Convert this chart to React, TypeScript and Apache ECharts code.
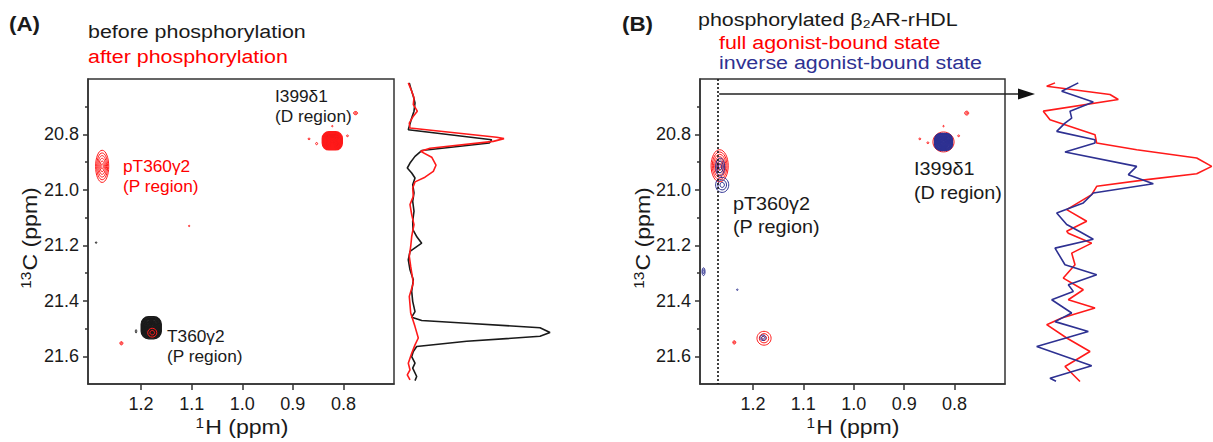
import React, { useEffect, useRef } from "react";
import * as echarts from "echarts";

const FONT = "'Liberation Sans', Arial, Helvetica, sans-serif";
const BLACK = "#1a1a1a";
const RED = "#ff1a1a";
const NAVY = "#2e3192";

// axis ranges (ppm)
const hRange = [0.7, 1.305];
const cRange = [20.6, 21.7];
const hTickValues = [0.8, 0.9, 1.0, 1.1, 1.2];
const cTickValues = [20.8, 21.0, 21.2, 21.4, 21.6];
const cMinorTickValues = [20.7, 20.9, 21.1, 21.3, 21.5];

// 2D peaks: [1H ppm, 13C ppm, half-width 1H, half-width 13C, contour levels]
const peaksBefore = [
  [0.822, 20.823, 0.018, 0.03, 14],
  [1.18, 21.497, 0.02, 0.04, 20],
  [1.289, 21.19, 0.001, 0.003, 1],
  [1.21, 21.51, 0.0008, 0.006, 1],
];
const peaksAfter = [
  [0.822, 20.823, 0.02, 0.033, 18],
  [1.277, 20.915, 0.013, 0.058, 6],
  [0.776, 20.723, 0.004, 0.006, 2],
  [0.868, 20.816, 0.002, 0.003, 1],
  [0.853, 20.833, 0.002, 0.004, 1],
  [0.792, 20.805, 0.002, 0.003, 1],
  [0.822, 20.77, 0.001, 0.002, 1],
  [1.105, 21.13, 0.001, 0.002, 1],
  [1.178, 21.515, 0.009, 0.016, 2],
  [1.239, 21.553, 0.003, 0.006, 2],
];
const peaksFull = [
  [0.822, 20.827, 0.021, 0.036, 5],
  [1.266, 20.913, 0.017, 0.058, 7],
  [0.776, 20.723, 0.004, 0.007, 2],
  [0.869, 20.816, 0.002, 0.003, 1],
  [0.853, 20.83, 0.002, 0.003, 1],
  [0.792, 20.805, 0.002, 0.003, 1],
  [0.822, 20.77, 0.001, 0.002, 1],
  [1.178, 21.535, 0.014, 0.025, 3],
  [1.237, 21.55, 0.003, 0.006, 2],
];
const peaksInverse = [
  [0.822, 20.827, 0.018, 0.031, 18],
  [1.265, 20.917, 0.009, 0.032, 3],
  [1.261, 20.982, 0.013, 0.027, 3],
  [1.298, 21.295, 0.003, 0.014, 2],
  [1.231, 21.36, 0.0015, 0.002, 1],
  [1.18, 21.533, 0.006, 0.01, 2],
];

// 1D projections: [13C ppm, intensity]
const projBefore = [
  [20.614, 9.3], [20.632, 10.7], [20.662, 13.3], [20.686, 15], [20.716, 14], [20.741, 11.7],
  [20.783, 8.3], [20.819, 91.7], [20.831, 89.3], [20.858, 21.7], [20.879, 15], [20.903, 10],
  [20.921, 7.3], [20.939, 11.7], [20.957, 15], [20.981, 12.7], [21.011, 14], [21.041, 12.7],
  [21.077, 14], [21.113, 12.7], [21.144, 13], [21.17, 17], [21.192, 21.7], [21.222, 10],
  [21.252, 8.3], [21.288, 10], [21.324, 13.3], [21.366, 11.7], [21.402, 12.7], [21.439, 15],
  [21.459, 11.7], [21.471, 21.7], [21.481, 66.7], [21.497, 140], [21.514, 150], [21.528, 140],
  [21.546, 66.7], [21.565, 16.7], [21.583, 13.3], [21.601, 11.7], [21.625, 15], [21.643, 12.7],
  [21.673, 16.7], [21.688, 15],
];
const projAfter = [
  [20.614, 8.3], [20.644, 11.7], [20.668, 14], [20.692, 13.3], [20.716, 17.3], [20.734, 13.3],
  [20.759, 9.3], [20.777, 10], [20.81, 96.7], [20.815, 104], [20.825, 93.3], [20.85, 30],
  [20.861, 20.7], [20.882, 31.7], [20.911, 36], [20.933, 33.3], [20.954, 25], [20.971, 15],
  [20.993, 12.7], [21.023, 13.3], [21.053, 10], [21.089, 11.7], [21.125, 14], [21.149, 12.7],
  [21.168, 11.7], [21.204, 10.7], [21.24, 9.3], [21.276, 10.7], [21.336, 13.3], [21.384, 9.3],
  [21.444, 10.7], [21.493, 15], [21.534, 18.3], [21.559, 15], [21.589, 11.7], [21.625, 8.3],
  [21.649, 10], [21.667, 7.3], [21.685, 10],
];
const projFull = [
  [20.614, 25], [20.626, 16.7], [20.656, 80], [20.674, 88.3], [20.716, 13.3], [20.747, 20],
  [20.801, 65], [20.831, 66.7], [20.855, 106.7], [20.885, 166.7], [20.915, 181.7], [20.942, 166.7],
  [20.963, 116.7], [20.987, 66.7], [21.017, 61.7], [21.071, 36.7], [21.113, 56.7], [21.149, 36.7],
  [21.156, 38.3], [21.192, 61.7], [21.228, 41.7], [21.27, 45], [21.318, 33.3], [21.36, 53.3],
  [21.396, 38.3], [21.426, 65], [21.462, 31.7], [21.486, 16.7], [21.534, 36.7], [21.583, 60],
  [21.637, 35], [21.691, 50],
];
const projInverse = [
  [20.614, 48.3], [20.644, 31.7], [20.683, 63.3], [20.716, 40], [20.741, 41.7], [20.759, 35],
  [20.789, 26.7], [20.819, 65], [20.831, 65], [20.863, 35], [20.915, 106.7], [20.945, 98.3],
  [20.978, 123.3], [21.011, 63.3], [21.029, 58.3], [21.047, 53.3], [21.083, 26.7], [21.125, 36.7],
  [21.151, 50], [21.178, 63.3], [21.21, 25], [21.27, 35], [21.306, 66.7], [21.342, 38.3],
  [21.366, 43.3], [21.396, 21.7], [21.444, 41.7], [21.475, 25], [21.511, 58.3], [21.565, 6.7],
  [21.634, 61.7], [21.679, 20], [21.69, 26],
];

const projMaxA = 155;
const projMaxB = 183;
const dottedH = 1.267;
const arrowC = 20.654;
const arrowTipI = 5;

const contour = (color: string) => (params: any, api: any) => {
  const c = api.coord([api.value(0), api.value(1)]);
  const s = api.size([api.value(2), api.value(3)]);
  const n = api.value(4);
  const dense = n >= 10;
  const children: any[] = [];
  for (let i = 0; i < n; i++) {
    const f = (n - i) / n;
    const rx = Math.max(s[0] * f, 0.7);
    const ry = Math.max(s[1] * f, 0.7);
    if (dense) {
      children.push({
        type: "rect",
        shape: { x: c[0] - rx, y: c[1] - ry, width: 2 * rx, height: 2 * ry, r: Math.min(rx, ry) * 0.75 },
        style: { fill: "none", stroke: color, lineWidth: 1.2 },
      });
    } else {
      children.push({
        type: "ellipse",
        shape: { cx: c[0], cy: c[1], rx, ry },
        style: { fill: "none", stroke: color, lineWidth: 1 },
      });
    }
  }
  return { type: "group", children };
};

const mainX = (gridIndex: number) => ({
  type: "value",
  gridIndex,
  min: hRange[0],
  max: hRange[1],
  inverse: true,
  axisLine: { show: true, onZero: false, lineStyle: { color: "#333", width: 1.5 } },
  axisTick: { show: true, customValues: hTickValues, length: 6, lineStyle: { color: "#333", width: 1.5 } },
  axisLabel: {
    customValues: hTickValues,
    formatter: (v: number) => v.toFixed(1),
    fontSize: 18,
    color: BLACK,
    fontFamily: FONT,
    margin: 11,
  },
  splitLine: { show: false },
});
const mainY = (gridIndex: number) => ({
  type: "value",
  gridIndex,
  position: "left",
  min: cRange[0],
  max: cRange[1],
  inverse: true,
  axisLine: { show: true, onZero: false, lineStyle: { color: "#333", width: 1.5 } },
  axisTick: { show: true, customValues: cTickValues, length: 5, lineStyle: { color: "#333", width: 1.5 } },
  axisLabel: {
    customValues: cTickValues,
    formatter: (v: number) => v.toFixed(1),
    fontSize: 18,
    color: BLACK,
    fontFamily: FONT,
    margin: 9,
  },
  splitLine: { show: false },
});
const minorY = (gridIndex: number) => ({
  type: "value",
  gridIndex,
  position: "left",
  min: cRange[0],
  max: cRange[1],
  inverse: true,
  axisLine: { show: false },
  axisTick: { show: true, customValues: cMinorTickValues, length: 3, lineStyle: { color: "#333", width: 1.5 } },
  axisLabel: { show: false },
  splitLine: { show: false },
});
const projX = (gridIndex: number, max: number) => ({ type: "value", gridIndex, min: 0, max, show: false });
const projY = (gridIndex: number) => ({
  type: "value",
  gridIndex,
  min: cRange[0],
  max: cRange[1],
  inverse: true,
  show: false,
});

const lineSeries = (data: number[][], color: string, xAxisIndex: number, yAxisIndex: number) => ({
  type: "line",
  xAxisIndex,
  yAxisIndex,
  data: data.map((d) => [d[1], d[0]]),
  symbol: "none",
  smooth: false,
  silent: true,
  lineStyle: { color, width: 1.6 },
  z: 3,
});
const contourSeries = (data: number[][], color: string, xAxisIndex: number, yAxisIndex: number, extra: any = {}) => ({
  type: "custom",
  xAxisIndex,
  yAxisIndex,
  data,
  encode: { x: 0, y: 1 },
  renderItem: contour(color),
  clip: true,
  silent: true,
  ...extra,
});

const txt = (text: string, x: number, y: number, o: any = {}) => ({
  type: "text",
  x,
  y,
  scaleX: o.sx ?? 1,
  rotation: o.rot ?? 0,
  silent: true,
  z: 100,
  style: {
    text,
    fill: o.color ?? BLACK,
    fontSize: o.fs ?? 16,
    fontFamily: FONT,
    fontWeight: o.bold ? "bold" : "normal",
    align: o.align ?? "left",
    verticalAlign: "middle",
    textAlign: o.align ?? "left",
    textVerticalAlign: "middle",
    rich: o.rich,
  },
});

const supRich = {
  sup: { fontSize: 14, fontFamily: FONT, fill: BLACK, verticalAlign: "top", lineHeight: 22, padding: [0, 1, 0, 0] },
  n: { fontSize: 21, fontFamily: FONT, fill: BLACK, lineHeight: 22 },
};

export default function App() {
  const ref = useRef<HTMLDivElement>(null);
  useEffect(() => {
    if (!ref.current) return;
    const chart = echarts.init(ref.current, undefined, { renderer: "svg" });
    const option: any = {
      animation: false,
      backgroundColor: "#fff",
      grid: [
        { left: 88, top: 79, width: 306, height: 305, show: true, borderColor: "#333", borderWidth: 1.5 },
        { left: 400, top: 79, width: projMaxA, height: 305 },
        { left: 700, top: 79, width: 305, height: 305, show: true, borderColor: "#333", borderWidth: 1.5 },
        { left: 1030, top: 79, width: projMaxB, height: 305 },
      ],
      xAxis: [mainX(0), projX(1, projMaxA), mainX(2), projX(3, projMaxB)],
      yAxis: [mainY(0), minorY(0), projY(1), mainY(2), minorY(2), projY(3)],
      series: [
        contourSeries(peaksBefore, BLACK, 0, 0),
        contourSeries(peaksAfter, RED, 0, 0),
        lineSeries(projBefore, BLACK, 1, 2),
        lineSeries(projAfter, RED, 1, 2),
        contourSeries(peaksFull, RED, 2, 3, {
          markLine: {
            silent: true,
            symbol: ["none", "none"],
            label: { show: false },
            lineStyle: { type: [2, 2], color: "#111", width: 1.6 },
            data: [{ xAxis: dottedH }],
          },
        }),
        contourSeries(peaksInverse, NAVY, 2, 3),
        lineSeries(projFull, RED, 3, 5),
        lineSeries(projInverse, NAVY, 3, 5),
      ],
    };
    chart.setOption(option);

    const start = chart.convertToPixel({ seriesIndex: 4 } as any, [dottedH, arrowC]) as number[];
    const tip = chart.convertToPixel({ seriesIndex: 6 } as any, [arrowTipI, arrowC]) as number[];
    const ay = start[1];

    chart.setOption({
      graphic: [
        txt("(A)", 9, 24, { fs: 20, bold: true, sx: 1.12 }),
        txt("before phosphorylation", 88, 32, { fs: 18, sx: 1.19 }),
        txt("after phosphorylation", 88, 56.5, { fs: 18, sx: 1.19, color: "#ff0000" }),
        txt("I399δ1", 275, 97, { fs: 16, sx: 1.08 }),
        txt("(D region)", 275, 117, { fs: 16, sx: 1.08 }),
        txt("pT360γ2", 123, 167, { fs: 16, sx: 1.08, color: "#ff0000" }),
        txt("(P region)", 123, 187, { fs: 16, sx: 1.08, color: "#ff0000" }),
        txt("T360γ2", 167, 337, { fs: 16, sx: 1.08 }),
        txt("(P region)", 167, 357, { fs: 16, sx: 1.08 }),
        txt("{sup|1}{n|H (ppm)}", 242, 427, { fs: 21, sx: 1.1, align: "center", rich: supRich }),
        txt("{sup|13}{n|C (ppm)}", 30, 238, { fs: 21, sx: 1.1, align: "center", rot: Math.PI / 2, rich: supRich }),

        txt("(B)", 622, 24, { fs: 20, bold: true, sx: 1.12 }),
        txt("phosphorylated β₂AR-rHDL", 698, 19.5, { fs: 18, sx: 1.19 }),
        txt("full agonist-bound state", 719, 42.5, { fs: 18, sx: 1.19, color: "#ff0000" }),
        txt("inverse agonist-bound state", 719, 62.5, { fs: 18, sx: 1.19, color: NAVY }),
        txt("I399δ1", 914, 168.5, { fs: 18, sx: 1.1 }),
        txt("(D region)", 914, 192.5, { fs: 18, sx: 1.1 }),
        txt("pT360γ2", 733, 203.5, { fs: 18, sx: 1.1 }),
        txt("(P region)", 733, 226.5, { fs: 18, sx: 1.1 }),
        txt("{sup|1}{n|H (ppm)}", 853, 427, { fs: 21, sx: 1.1, align: "center", rich: supRich }),
        txt("{sup|13}{n|C (ppm)}", 643, 238, { fs: 21, sx: 1.1, align: "center", rot: Math.PI / 2, rich: supRich }),
        {
          type: "line",
          silent: true,
          z: 90,
          shape: { x1: start[0], y1: ay, x2: tip[0] - 15, y2: ay },
          style: { stroke: "#222", lineWidth: 1.5 },
        },
        {
          type: "polygon",
          silent: true,
          z: 90,
          shape: { points: [[tip[0] - 17, ay - 5.5], [tip[0], ay], [tip[0] - 17, ay + 5.5]] },
          style: { fill: "#111" },
        },
      ],
    });
    return () => chart.dispose();
  }, []);
  return <div ref={ref} style={{ position: "fixed", left: 0, top: 0, width: 1213, height: 442 }} />;
}
